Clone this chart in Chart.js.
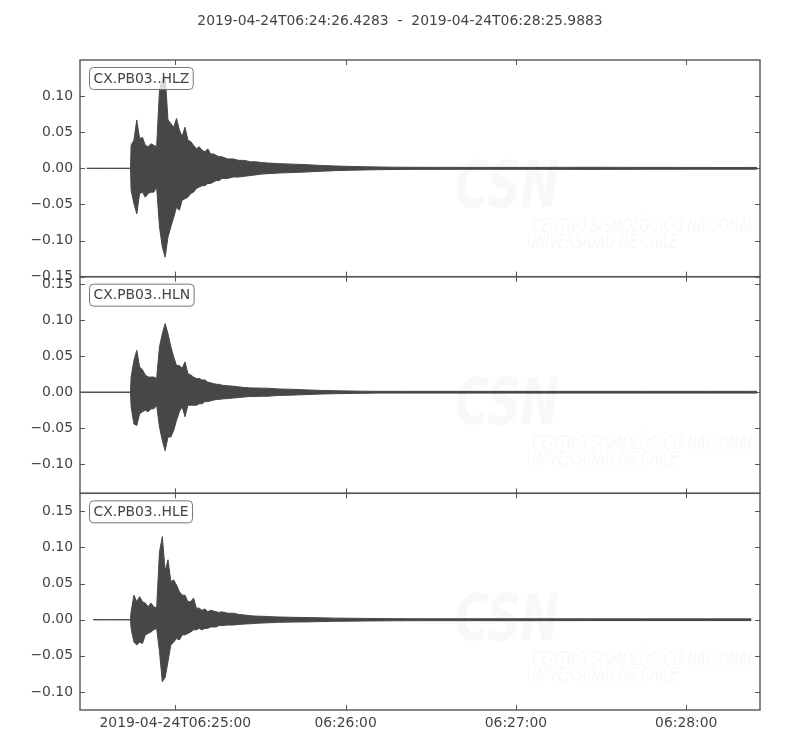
<!DOCTYPE html>
<html>
<head>
<meta charset="utf-8">
<title>CX.PB03 seismogram</title>
<script src="https://cdn.jsdelivr.net/npm/chart.js@4.4.1/dist/chart.umd.min.js"></script>
<style>
  html, body { margin: 0; padding: 0; background: #fff; }
  #wrap { position: relative; width: 800px; height: 750px; }
  #wrap canvas { position: absolute; left: 0; top: 0; }
</style>
</head>
<body>
<div id="wrap">
  <canvas id="hlz" width="800" height="750"></canvas>
  <canvas id="hln" width="800" height="750"></canvas>
  <canvas id="hle" width="800" height="750"></canvas>
</div>
<script>
// seconds after 2019-04-24T06:24:26.4283, envelope
const times = [0, 2.4, 4.7, 10, 17.8,
  18, 19, 20, 21, 22, 23, 24, 25, 26, 27, 28, 29, 30, 31, 32, 33, 34, 35, 36, 37,
  38, 39, 40, 41, 42, 43, 44, 45, 46, 47, 48, 49, 50,
  52, 54, 56, 58, 60, 62, 64, 66, 68, 70,
  75, 80, 85, 90, 95, 100, 105, 110, 115, 120,
  140, 160, 180, 200, 220, 236.5, 238.5];

const hlzHi = [null, 0, 0, 0, 0,
  0.032, 0.039, 0.067, 0.041, 0.043, 0.032, 0.030, 0.034, 0.032, 0.030, 0.108, 0.124, 0.128, 0.067, 0.062, 0.057, 0.069, 0.053, 0.044, 0.057,
  0.039, 0.037, 0.032, 0.027, 0.030, 0.025, 0.023, 0.027, 0.020, 0.020, 0.018, 0.016, 0.016,
  0.013, 0.013, 0.011, 0.011, 0.009, 0.009, 0.008, 0.0074, 0.007, 0.0065,
  0.0058, 0.005, 0.004, 0.0032, 0.0027, 0.0022, 0.0019, 0.0016, 0.0015, 0.0014,
  0.0013, 0.0013, 0.0015, 0.0013, 0.0012, 0.0012, 0.0012];
const hlzLo = [null, 0, 0, 0, 0,
  -0.030, -0.049, -0.063, -0.035, -0.033, -0.040, -0.035, -0.033, -0.033, -0.026, -0.081, -0.109, -0.123, -0.095, -0.081, -0.068, -0.054, -0.058, -0.044, -0.042,
  -0.040, -0.035, -0.033, -0.028, -0.026, -0.024, -0.024, -0.021, -0.021, -0.019, -0.017, -0.017, -0.014,
  -0.014, -0.012, -0.012, -0.011, -0.010, -0.009, -0.008, -0.0074, -0.007, -0.0065,
  -0.0058, -0.005, -0.004, -0.0032, -0.0027, -0.0022, -0.0019, -0.0016, -0.0015, -0.0014,
  -0.0013, -0.0013, -0.0015, -0.0013, -0.0012, -0.0012, -0.0012];

const hlnHi = [0, 0, 0, 0, 0,
  0.021, 0.044, 0.058, 0.035, 0.031, 0.024, 0.021, 0.021, 0.021, 0.019, 0.063, 0.081, 0.095, 0.081, 0.063, 0.049, 0.037, 0.037, 0.033, 0.042,
  0.026, 0.024, 0.021, 0.019, 0.019, 0.017, 0.017, 0.014, 0.013, 0.012, 0.011, 0.011, 0.0097,
  0.009, 0.0083, 0.0074, 0.0065, 0.006, 0.0058, 0.0056, 0.0056, 0.005, 0.0045,
  0.004, 0.0032, 0.0025, 0.002, 0.0017, 0.0014, 0.0012, 0.0012, 0.0012, 0.0012,
  0.0012, 0.0012, 0.0012, 0.0012, 0.0012, 0.0012, 0.0012];
const hlnLo = [0, 0, 0, 0, 0,
  -0.020, -0.044, -0.046, -0.030, -0.027, -0.025, -0.027, -0.023, -0.023, -0.018, -0.048, -0.067, -0.081, -0.062, -0.062, -0.053, -0.039, -0.027, -0.020, -0.034,
  -0.018, -0.018, -0.018, -0.018, -0.016, -0.016, -0.013, -0.013, -0.012, -0.011, -0.010, -0.010, -0.0093,
  -0.0088, -0.008, -0.0074, -0.0065, -0.006, -0.0058, -0.0056, -0.0056, -0.005, -0.0045,
  -0.004, -0.0032, -0.0025, -0.002, -0.0017, -0.0014, -0.0012, -0.0012, -0.0012, -0.0012,
  -0.0012, -0.0012, -0.0012, -0.0012, -0.0012, -0.0012, -0.0012];

const hleHi = [null, null, 0, 0, 0,
  0.011, 0.034, 0.025, 0.032, 0.025, 0.023, 0.018, 0.023, 0.018, 0.016, 0.094, 0.115, 0.067, 0.083, 0.053, 0.055, 0.048, 0.039, 0.034, 0.034,
  0.025, 0.025, 0.030, 0.016, 0.016, 0.013, 0.015, 0.011, 0.013, 0.012, 0.011, 0.010, 0.011,
  0.009, 0.009, 0.0074, 0.0065, 0.0056, 0.005, 0.0048, 0.0045, 0.004, 0.0038,
  0.0033, 0.003, 0.0026, 0.0022, 0.002, 0.0018, 0.0016, 0.0015, 0.0014, 0.0013,
  0.0013, 0.0013, 0.0012, 0.0012, 0.0012, 0.0012, null];
const hleLo = [null, null, 0, 0, 0,
  -0.012, -0.031, -0.035, -0.031, -0.033, -0.021, -0.019, -0.017, -0.014, -0.012, -0.044, -0.086, -0.080, -0.058, -0.035, -0.031, -0.026, -0.028, -0.021, -0.021,
  -0.019, -0.017, -0.014, -0.014, -0.012, -0.014, -0.012, -0.012, -0.010, -0.010, -0.010, -0.008, -0.008,
  -0.0074, -0.0074, -0.0065, -0.006, -0.0056, -0.005, -0.0046, -0.0043, -0.004, -0.0036,
  -0.0032, -0.003, -0.0026, -0.0022, -0.002, -0.0018, -0.0016, -0.0015, -0.0014, -0.0013,
  -0.0013, -0.0013, -0.0012, -0.0012, -0.0012, -0.0012, null];

const xTickSec = [33.5717, 93.5717, 153.5717, 213.5717];
const xTickLabels = ['2019-04-24T06:25:00', '06:26:00', '06:27:00', '06:28:00'];
const yTicksZ = [-0.15, -0.10, -0.05, 0, 0.05, 0.10];
const yTicksN = [-0.10, -0.05, 0, 0.05, 0.10, 0.15];
const yTicksE = [-0.10, -0.05, 0, 0.05, 0.10, 0.15];

const WAVE = '#474747';
const TXT = '#444';
Chart.defaults.font.family = '"DejaVu Sans", sans-serif';
Chart.defaults.font.size = 13.9;
Chart.defaults.color = TXT;

function fmt(v) {
  const s = Math.abs(v).toFixed(2);
  return v < -1e-9 ? '\u2212' + s : s;
}

// frame, inward ticks, station label, faint watermark
const frame = {
  id: 'frame',
  beforeDatasetsDraw(chart) {
    const { ctx, chartArea: a } = chart;
    ctx.save();
    ctx.fillStyle = '#f8f8f8';
    ctx.font = 'italic bold 64px "DejaVu Sans"';
    ctx.fillText('CSN', 455, a.top + 147, 104);
    ctx.font = 'italic 20px "DejaVu Sans"';
    ctx.fillText('CENTRO SISMOLÓGICO NACIONAL', 532, a.top + 172, 223);
    ctx.fillText('UNIVERSIDAD DE CHILE', 527, a.top + 188, 151);
    ctx.restore();
  },
  afterDatasetsDraw(chart, args, opts) {
    const { ctx, chartArea: a, scales } = chart;
    ctx.save();
    ctx.strokeStyle = '#555';
    ctx.lineWidth = 1;
    ctx.beginPath();
    scales.x.ticks.forEach(t => {
      const px = Math.round(scales.x.getPixelForValue(t.value)) + 0.5;
      ctx.moveTo(px, a.top); ctx.lineTo(px, a.top + 5);
      ctx.moveTo(px, a.bottom); ctx.lineTo(px, a.bottom - 5);
    });
    scales.y.ticks.forEach(t => {
      const py = Math.round(scales.y.getPixelForValue(t.value)) + 0.5;
      ctx.moveTo(a.left, py); ctx.lineTo(a.left + 5, py);
      ctx.moveTo(a.right, py); ctx.lineTo(a.right - 5, py);
    });
    ctx.stroke();
    ctx.lineWidth = 1.4;
    ctx.strokeRect(a.left, a.top, a.right - a.left, a.bottom - a.top);

    ctx.font = '13.9px "DejaVu Sans"';
    const w = ctx.measureText(opts.text).width + 8;
    const bx = a.left + 9.5, by = a.top + 7.5, bh = 22;
    ctx.beginPath();
    ctx.roundRect(bx, by, w, bh, 4);
    ctx.fillStyle = 'rgba(255,255,255,0.8)';
    ctx.fill();
    ctx.strokeStyle = '#777';
    ctx.lineWidth = 1;
    ctx.stroke();
    ctx.fillStyle = TXT;
    ctx.textBaseline = 'middle';
    ctx.fillText(opts.text, bx + 4, by + bh / 2 + 0.5);
    ctx.restore();
  }
};

function makeChart(id, label, hi, lo, yMin, yMax, yTicks, top, bottom, showX, title) {
  const quiet = { display: false, drawTicks: false };
  return new Chart(document.getElementById(id), {
    type: 'line',
    data: {
      datasets: [
        { data: times.map((t, i) => ({ x: t, y: hi[i] })), borderColor: WAVE, borderWidth: 1,
          pointRadius: 0, fill: false },
        { data: times.map((t, i) => ({ x: t, y: lo[i] })), borderColor: WAVE, backgroundColor: WAVE,
          borderWidth: 1, pointRadius: 0, fill: '-1' }
      ]
    },
    options: {
      responsive: false,
      animation: false,
      devicePixelRatio: 1,
      layout: { padding: { left: 0, right: 0, top: title ? 0 : top, bottom: 750 - bottom - 40 } },
      plugins: {
        legend: { display: false },
        tooltip: { enabled: false },
        title: {
          display: !!title,
          text: title || '',
          color: TXT,
          font: { size: 13.9, weight: 'normal' },
          padding: { top: 13, bottom: 30.32 }
        },
        frame: { text: label }
      },
      scales: {
        x: {
          type: 'linear', min: 0, max: 239.56,
          grid: quiet, border: { display: false },
          afterBuildTicks: s => { s.ticks = xTickSec.map(v => ({ value: v })); },
          afterFit: s => { s.height = 40; },
          ticks: { display: showX, padding: 5, autoSkip: false, maxRotation: 0,
                   callback: (v, i) => xTickLabels[i] }
        },
        y: {
          min: yMin, max: yMax,
          grid: quiet, border: { display: false },
          afterBuildTicks: s => { s.ticks = yTicks.map(v => ({ value: v })); },
          afterFit: s => { s.width = 80; },
          ticks: { padding: 7, autoSkip: false, callback: v => fmt(v) }
        },
        yr: {
          position: 'right', min: yMin, max: yMax,
          grid: quiet, border: { display: false },
          afterFit: s => { s.width = 40; },
          ticks: { display: false }
        }
      }
    },
    plugins: [frame]
  });
}

makeChart('hlz', 'CX.PB03..HLZ', hlzHi, hlzLo, -0.15, 0.15, yTicksZ, 60, 276.67, false,
  '2019-04-24T06:24:26.4283  -  2019-04-24T06:28:25.9883');
makeChart('hln', 'CX.PB03..HLN', hlnHi, hlnLo, -0.14, 0.16, yTicksN, 276.67, 493.33, false, null);
makeChart('hle', 'CX.PB03..HLE', hleHi, hleLo, -0.125, 0.175, yTicksE, 493.33, 710, true, null);
</script>
</body>
</html>
